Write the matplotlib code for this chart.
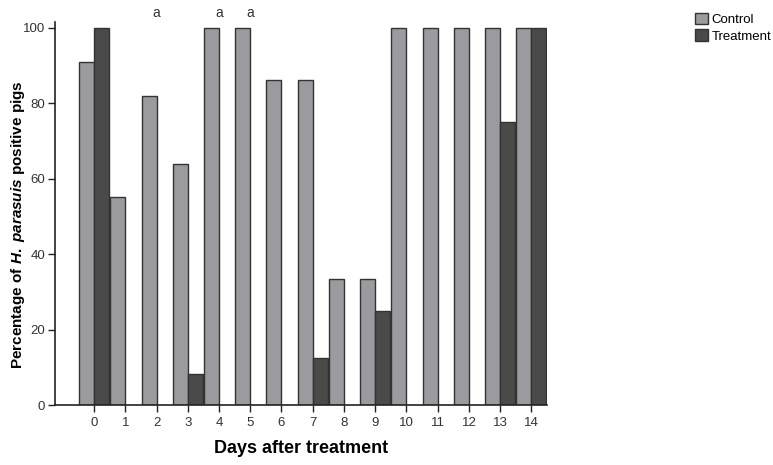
import numpy as np
import matplotlib
matplotlib.use('Agg')
import matplotlib.pyplot as plt
from matplotlib.patches import Patch

plt.rcParams['font.family'] = ['Liberation Sans', 'DejaVu Sans']
plt.rcParams['mathtext.fontset'] = 'custom'
plt.rcParams['mathtext.rm'] = 'Liberation Sans:bold'
plt.rcParams['mathtext.it'] = 'Liberation Sans:bold:italic'

days = list(range(15))
control = [91, 55, 82, 64, 100, 100, 86, 86, 33.3, 33.3, 100, 100, 100, 100, 100]
treatment = [100, 0, 0, 8.3, 0, 0, 0, 12.5, 0, 25, 0, 0, 0, 75, 100]
sig_days = [2, 4, 5]

c_ctrl = '#9b9b9f'
c_trt = '#4a4a4a'
edge = '#333333'

fig = plt.figure(figsize=(7.73, 4.65), dpi=100)
ax = fig.add_axes([55/773, 60/465, 492/773, 383/465])

x = np.array(days)
w = 0.48
ax.bar(x - w/2, control, w, color=c_ctrl, edgecolor=edge, linewidth=1)
trt = np.array(treatment)
mask = trt > 0
ax.bar(x[mask] + w/2, trt[mask], w, color=c_trt, edgecolor=edge, linewidth=1)

for d in sig_days:
    ax.text(d, 104, 'a', ha='center', va='center', fontsize=10, color='#333333')

ax.set_xlim(-1.25, 14.5)
ax.set_ylim(0, 101.5)
ax.set_xticks(days)
ax.set_yticks([0, 20, 40, 60, 80, 100])
ax.spines['top'].set_visible(False)
ax.spines['right'].set_visible(False)
for s in ['left', 'bottom']:
    ax.spines[s].set_color('#222222')
    ax.spines[s].set_linewidth(1.2)
ax.tick_params(axis='both', colors='#222222', labelcolor='#333333', labelsize=9.5, length=5, width=1)
ax.tick_params(axis='y', pad=2)

ax.set_xlabel('Days after treatment', fontsize=13, fontweight='bold', labelpad=8)
ax.set_ylabel(r'Percentage of $\mathit{H.}$ $\mathit{parasuis}$ positive pigs',
              fontsize=11, fontweight='bold', va='center')
ax.yaxis.set_label_coords(-37/492, 0.47)

handles = [Patch(facecolor=c_ctrl, edgecolor=edge, label='Control'),
           Patch(facecolor=c_trt, edgecolor=edge, label='Treatment')]
fig.legend(handles=handles, loc='upper left', bbox_to_anchor=(688/773, 1 - 6/465),
           frameon=False, fontsize=9.5, handlelength=1.0, handleheight=1.0,
           handletextpad=0.3, labelspacing=0.25, borderpad=0)

fig.savefig('out.png', dpi=100)
